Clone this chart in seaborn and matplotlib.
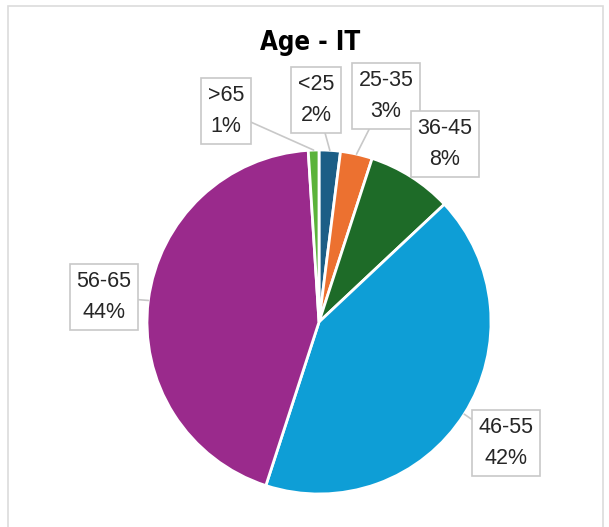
import matplotlib
matplotlib.use("Agg")
import matplotlib.pyplot as plt
import seaborn as sns
import numpy as np
from matplotlib.patches import Rectangle

sns.set_theme(style="white")
plt.rcParams['font.family'] = ['Liberation Sans', 'DejaVu Sans']

categories = ["<25", "25-35", "36-45", "46-55", "56-65", ">65"]
values = [2, 3, 8, 42, 44, 1]
colors = ["#1C5E86", "#EC7130", "#1E6B28", "#0E9ED6", "#9A2A8C", "#5BB33A"]

W, H = 609, 527
cx, cy, R = 319, 322, 172  # pixel geometry of pie

fig = plt.figure(figsize=(W / 100, H / 100), dpi=100)
ax = fig.add_axes([0, 0, 1, 1])
ax.axis("off")

# chart border
fig.patches.append(Rectangle((8 / W, -0.05), (603 - 8) / W, 1 - 6 / H + 0.05,
                             transform=fig.transFigure, fill=False,
                             edgecolor="#DCDCDC", linewidth=1.2))

wedges, _ = ax.pie(values, colors=colors, startangle=90, counterclock=False,
                   radius=1.0, center=(0, 0),
                   wedgeprops=dict(edgecolor="white", linewidth=2))
ax.set_xlim(-cx / R, (W - cx) / R)
ax.set_ylim(-(H - cy) / R, cy / R)
ax.set_aspect("auto")

def px(x, y):
    return ((x - cx) / R, (cy - y) / R)

# label box centres in pixels
label_pos = {
    "<25": (316, 100),
    "25-35": (386, 96),
    "36-45": (445, 144),
    "46-55": (506, 443),
    "56-65": (104, 297),
    ">65": (226, 111),
}

total = sum(values)
cum = 0
for cat, v, w in zip(categories, values, wedges):
    mid = 90 - (cum + v / 2) / total * 360
    cum += v
    ang = np.deg2rad(mid)
    tip = (np.cos(ang) * 1.0, np.sin(ang) * 1.0)
    lx, ly = px(*label_pos[cat])
    ax.annotate(f"{cat}\n{v}%", xy=tip, xytext=(lx, ly),
                ha="center", va="center", fontsize=15.5, color="#262626",
                linespacing=1.65,
                bbox=dict(boxstyle="square,pad=0.3", fc="white", ec="#C8C8C8", lw=1.2),
                arrowprops=dict(arrowstyle="-", color="#C8C8C8", lw=1.2,
                                shrinkA=0, shrinkB=0))

fig.text(310 / W, 1 - 43 / H, "Age - IT", ha="center", va="center",
         fontsize=18.5, fontweight="bold", color="black",
         family=["DejaVu Sans"], fontstretch="condensed")

fig.savefig("out.png", dpi=100)
